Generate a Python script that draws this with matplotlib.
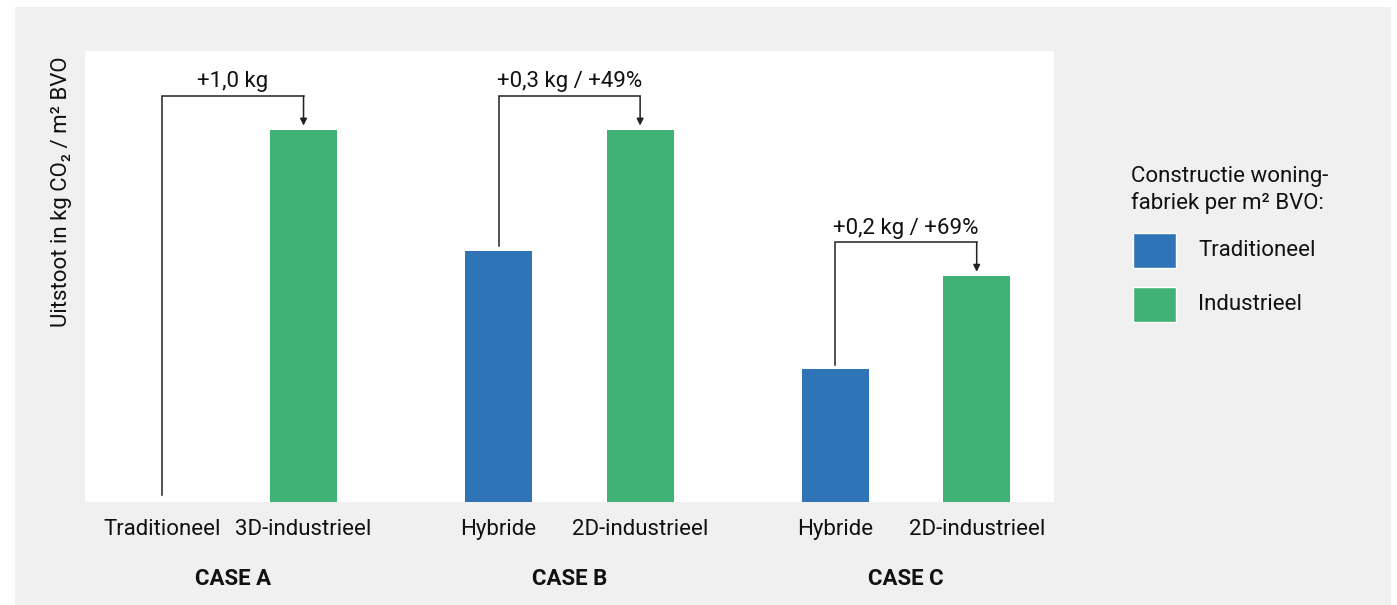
import matplotlib.pyplot as plt
from matplotlib.patches import Rectangle

plt.rcParams['font.family'] = ['Roboto', 'DejaVu Sans']

cases = ['CASE A', 'CASE B', 'CASE C']
left_labels = ['Traditioneel', 'Hybride', 'Hybride']
right_labels = ['3D-industrieel', '2D-industrieel', '2D-industrieel']
left_values = [0.0, 0.675, 0.357]      # kg CO2 / m2 BVO
right_values = [1.0, 1.0, 0.607]
deltas = ['+1,0 kg', '+0,3 kg / +49%', '+0,2 kg / +69%']

blue = '#3074b8'
green = '#41b276'
grey = '#f0f0f0'
fs = 16

fig = plt.figure(figsize=(13.97, 6.05), dpi=100)
fig.patch.set_facecolor('white')
fig.patches.append(Rectangle((15 / 1397, 0), (1391 - 15) / 1397, (605 - 7) / 605,
                             transform=fig.transFigure, facecolor=grey,
                             edgecolor='none', zorder=-10))

ax = fig.add_axes([85 / 1397, (605 - 502) / 605, (1054 - 85) / 1397, (502 - 51) / 605])
ax.set_facecolor('white')

off = 0.2103
width = 0.199
x = range(len(cases))
xl = [i - off for i in x]
xr = [i + off for i in x]

ax.bar(xl, left_values, width, color=blue, zorder=2)
ax.bar(xr, right_values, width, color=green, zorder=2)

ax.set_xlim(-0.439, 2.440)
ax.set_ylim(0, 1.2124)

# brackets with arrows
for i in x:
    top = right_values[i] + 0.091
    start = left_values[i] + (0.012 if left_values[i] > 0 else 0.018)
    ax.plot([xl[i], xl[i], xr[i]], [start, top, top], color='#222222', lw=1.1,
            solid_joinstyle='miter', zorder=3)
    ax.annotate('', xy=(xr[i], right_values[i] + 0.012), xytext=(xr[i], top),
                arrowprops=dict(arrowstyle='-|>', color='#222222', lw=1.1,
                                mutation_scale=10, shrinkA=0, shrinkB=0), zorder=3)
    ax.text((xl[i] + xr[i]) / 2, top + 0.01, deltas[i], ha='center', va='bottom',
            fontsize=fs, color='#111111')

ax.set_xticks(xl + xr)
ax.set_xticklabels(left_labels + right_labels, fontsize=fs, color='#111111')
ax.tick_params(axis='x', length=0, pad=12)
ax.set_yticks([])
for s in ax.spines.values():
    s.set_visible(False)

for i in x:
    ax.text(i, -0.206, cases[i], transform=ax.transData, ha='center', va='center',
            fontsize=fs, fontweight='bold', color='#111111')

fig.text(62 / 1397, 1 - 192 / 605, 'Uitstoot in kg CO₂ / m² BVO', rotation=90,
         ha='center', va='center', fontsize=fs, color='#111111')

# legend
fig.text(1131 / 1397, 1 - 190 / 605, 'Constructie woning-\nfabriek per m² BVO:',
         ha='left', va='center', fontsize=fs, color='#111111', linespacing=1.25)
for yc, col, lab in [(250.5, blue, 'Traditioneel'), (304.5, green, 'Industrieel')]:
    fig.patches.append(Rectangle((1133 / 1397, 1 - (yc + 17.5) / 605), 43 / 1397, 35 / 605,
                                 transform=fig.transFigure, facecolor=col,
                                 edgecolor='white', lw=1))
    fig.text(1198 / 1397, 1 - yc / 605, lab, ha='left', va='center', fontsize=fs,
             color='#111111')

fig.savefig('out.png', dpi=100)
